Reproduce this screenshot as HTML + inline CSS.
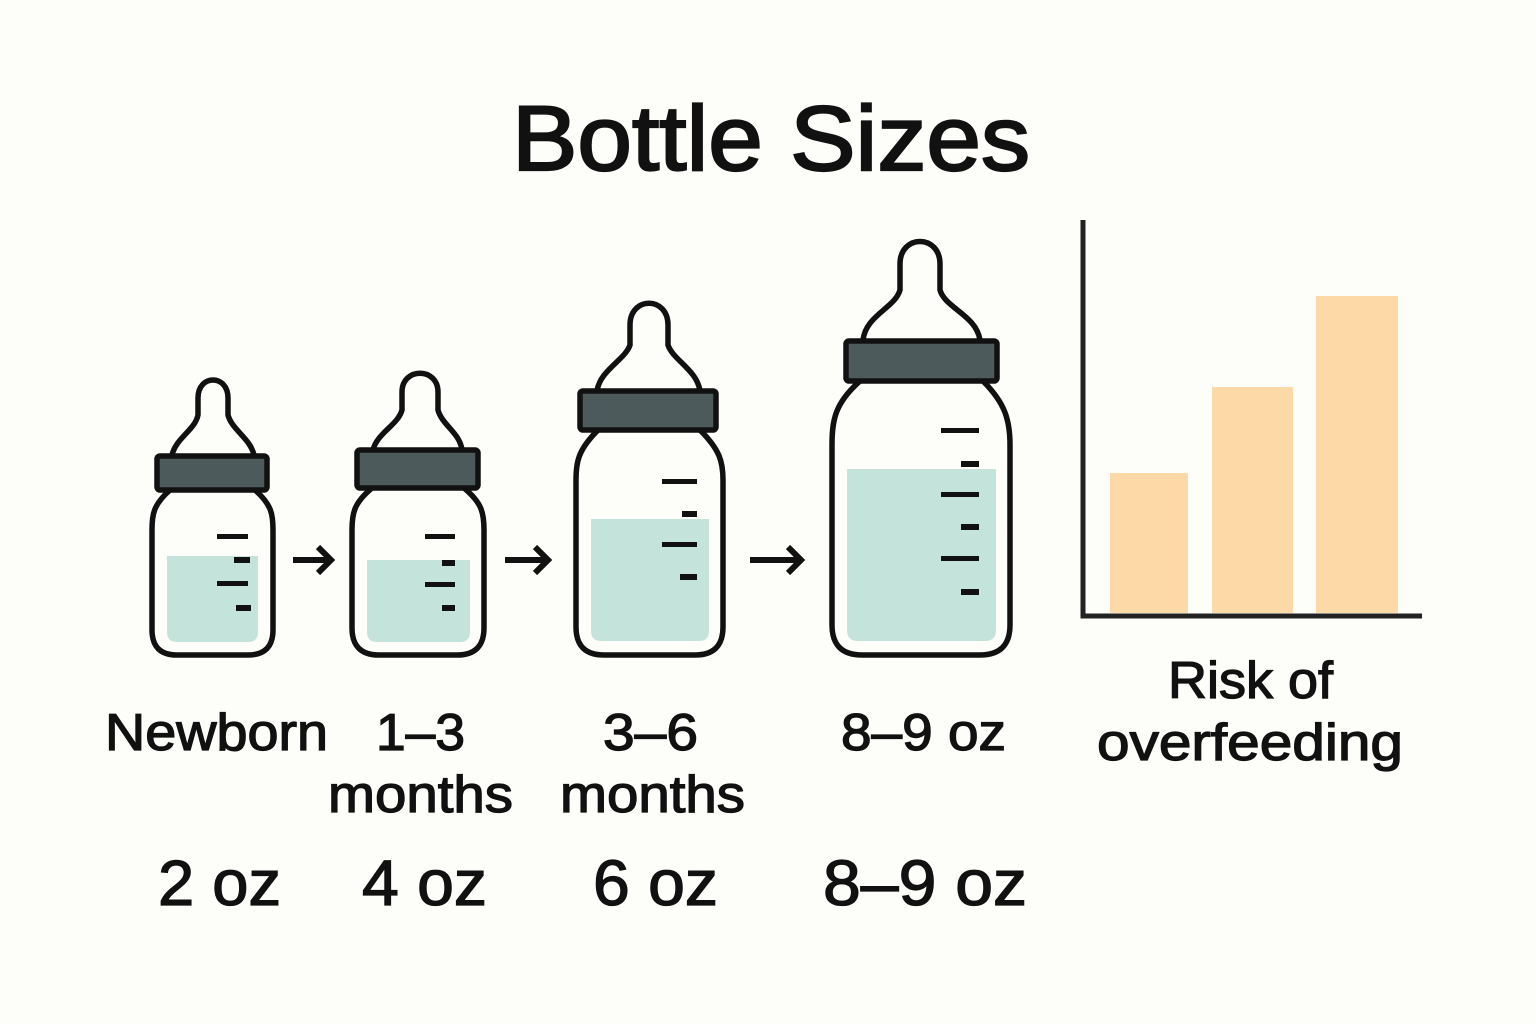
<!DOCTYPE html>
<html><head><meta charset="utf-8"><style>
html,body{margin:0;padding:0;background:#fdfdfa;}
svg{display:block}
text{font-family:"Liberation Sans",sans-serif;fill:#111;stroke:#111;stroke-width:1.3px;}
</style></head><body>
<svg width="1536" height="1024" viewBox="0 0 1536 1024" xmlns="http://www.w3.org/2000/svg">
<rect width="1536" height="1024" fill="#fdfdfa"/>
<text x="512" y="170" font-size="92" textLength="518" lengthAdjust="spacingAndGlyphs" style="stroke-width:2.2px">Bottle Sizes</text>

<g stroke="#111" stroke-width="5.5" stroke-linejoin="round" stroke-linecap="round">
<!-- B1 -->
<path d="M172,455 C176,438 195,430 198,415 L198,398 C198,374 228,374 228,398 L228,415 C232,430 250,438 254,455" fill="none"/>
<path d="M170,490 C153,505 152,515 152,530 L152,630 Q152,655 177,655 L248,655 Q273,655 273,630 L273,530 C273,515 272,505 255,490" fill="#fdfdfa"/>
<rect x="157" y="456" width="110" height="34" rx="3" fill="#4d5a5b"/>
<!-- B2 -->
<path d="M373,450 C377,433 398,425 402,410 L402,392 C402,367 438,367 438,392 L438,410 C442,425 460,433 462,450" fill="none"/>
<path d="M372,488 C354,503 352,513 352,530 L352,628 Q352,655 379,655 L457,655 Q484,655 484,628 L484,530 C484,513 482,503 464,488" fill="#fdfdfa"/>
<rect x="357" y="450" width="121" height="38" rx="3" fill="#4d5a5b"/>
<!-- B3 -->
<path d="M597,391 C600,370 625,360 630,345 L630,325 C630,296 668,296 668,325 L668,345 C673,360 697,370 700,391" fill="none"/>
<path d="M598,430 C578,450 576,462 576,480 L576,627 Q576,655 604,655 L695,655 Q723,655 723,627 L723,480 C723,462 720,450 700,430" fill="#fdfdfa"/>
<rect x="580" y="391" width="136" height="39" rx="3" fill="#4d5a5b"/>
<!-- B4 -->
<path d="M863,340 C866,315 895,308 900,290 L900,264 C900,234 940,234 940,264 L940,290 C945,308 976,315 980,340" fill="none"/>
<path d="M860,381 C835,403 832,420 832,445 L832,625 Q832,655 862,655 L980,655 Q1010,655 1010,625 L1010,445 C1010,420 1005,403 983,381" fill="#fdfdfa"/>
<rect x="846" y="341" width="151" height="40" rx="3" fill="#4d5a5b"/>
</g>
<g fill="#c4e4db">
<path d="M167,556 H258 V632 Q258,642 248,642 H177 Q167,642 167,632 Z"/>
<path d="M367,560 H470 V632 Q470,642 460,642 H377 Q367,642 367,632 Z"/>
<path d="M591,519 H709 V631 Q709,641 699,641 H601 Q591,641 591,631 Z"/>
<path d="M847,469 H996 V630 Q996,641 985,641 H858 Q847,641 847,630 Z"/>
</g>
<g fill="#111">
<rect x="217" y="534" width="31" height="5"/><rect x="234" y="557" width="16" height="6"/><rect x="217" y="581" width="31" height="5"/><rect x="236" y="605" width="15" height="6"/>
<rect x="425" y="534" width="30" height="5"/><rect x="442" y="560" width="13" height="6"/><rect x="425" y="582" width="30" height="5"/><rect x="442" y="605" width="13" height="6"/>
<rect x="662" y="479" width="35" height="5"/><rect x="682" y="511" width="15" height="6"/><rect x="662" y="542" width="35" height="5"/><rect x="680" y="574" width="17" height="6"/>
<rect x="941" y="428" width="38" height="5"/><rect x="961" y="461" width="18" height="6"/><rect x="941" y="492" width="38" height="5"/><rect x="961" y="524" width="18" height="6"/><rect x="941" y="556" width="38" height="5"/><rect x="961" y="589" width="18" height="6"/>
</g>
<g stroke="#111" stroke-width="6" fill="none">
<path d="M293,560 H330 M318,547 L331,560 L318,573"/>
<path d="M505,560 H547 M535,547 L548,560 L535,573"/>
<path d="M750,560 H800 M788,547 L801,560 L788,573"/>
</g>
<!-- chart -->
<g fill="#fdd9a8">
<rect x="1110" y="473" width="78" height="140"/>
<rect x="1212" y="387" width="81" height="226"/>
<rect x="1316" y="296" width="82" height="317"/>
</g>
<path d="M1083,220 V616 H1422" stroke="#222" stroke-width="5" fill="none"/>

<g font-size="52">
<text x="105" y="750" textLength="223" lengthAdjust="spacingAndGlyphs">Newborn</text>
<text x="376" y="750" textLength="89" lengthAdjust="spacingAndGlyphs">1–3</text>
<text x="328" y="812" textLength="185" lengthAdjust="spacingAndGlyphs">months</text>
<text x="603" y="750" textLength="95" lengthAdjust="spacingAndGlyphs">3–6</text>
<text x="560" y="812" textLength="185" lengthAdjust="spacingAndGlyphs">months</text>
<text x="841" y="750" textLength="165" lengthAdjust="spacingAndGlyphs">8–9 oz</text>
<text x="1168" y="698" textLength="165" lengthAdjust="spacingAndGlyphs">Risk of</text>
<text x="1097" y="760" textLength="306" lengthAdjust="spacingAndGlyphs">overfeeding</text>
</g>
<g font-size="64">
<text x="158" y="905" textLength="123" lengthAdjust="spacingAndGlyphs">2 oz</text>
<text x="362" y="905" textLength="125" lengthAdjust="spacingAndGlyphs">4 oz</text>
<text x="593" y="905" textLength="125" lengthAdjust="spacingAndGlyphs">6 oz</text>
<text x="823" y="905" textLength="204" lengthAdjust="spacingAndGlyphs">8–9 oz</text>
</g>
</svg>
</body></html>
